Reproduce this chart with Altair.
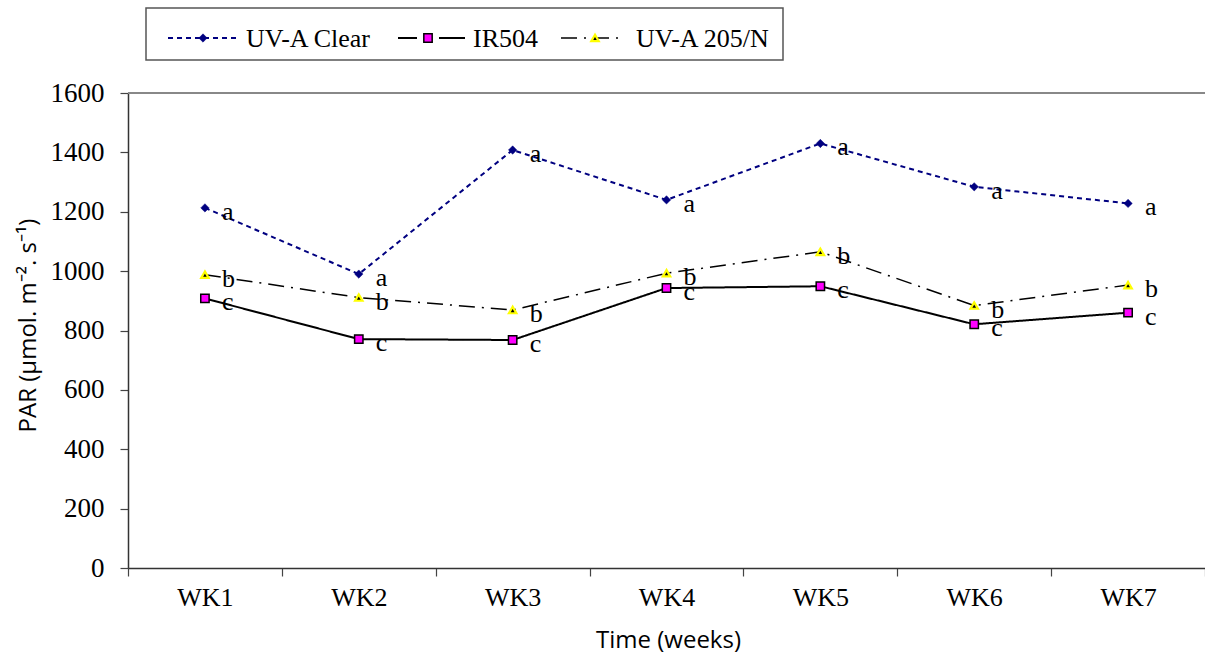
import altair as alt
import pandas as pd

# Weekly PAR readings under three greenhouse films
weeks = ["WK1", "WK2", "WK3", "WK4", "WK5", "WK6", "WK7"]
uva_clear = [1213, 990, 1408, 1240, 1430, 1284, 1228]
ir504 = [908, 771, 768, 943, 949, 821, 860]
uva_205n = [988, 911, 869, 993, 1065, 884, 953]
letters_clear = ["a", "a", "a", "a", "a", "a", "a"]
letters_ir504 = ["c", "c", "c", "c", "c", "c", "c"]
letters_205n = ["b", "b", "b", "b", "b", "b", "b"]

SERIF = "Liberation Serif"
SANS = "Open Sans"
W, H = 1077, 475

def frame(values, letters):
    return pd.DataFrame({"week": weeks, "value": values, "letter": letters})

x_enc = alt.X(
    "week:N",
    sort=weeks,
    scale=alt.Scale(type="band", domain=weeks, paddingInner=0, paddingOuter=0),
    axis=alt.Axis(
        title="Time (weeks)",
        titleFont=SANS, titleFontSize=24, titleFontWeight="normal", titleColor="black",
        titleX=540, titleY=72, titleBaseline="middle",
        labelFont=SERIF, labelFontSize=26, labelColor="black", labelAngle=0,
        labelPadding=8, tickBand="extent", tickSize=8,
        tickColor="#444", domainColor="#333", domainWidth=1.5, tickWidth=1.2,
        grid=False,
    ),
)
y_enc = alt.Y(
    "value:Q",
    scale=alt.Scale(domain=[0, 1600], nice=False),
    axis=alt.Axis(
        title="PAR (µmol. m⁻². s⁻¹)",
        titleFont=SANS, titleFontSize=24, titleFontWeight="normal", titleColor="black",
        titleX=-100, titleY=232, titleAlign="center", titleBaseline="middle",
        labelFont=SERIF, labelFontSize=27, labelColor="black", labelPadding=16,
        format="d",
        values=list(range(0, 1601, 200)), tickSize=8,
        tickColor="#444", domainColor="#333", domainWidth=1.5, tickWidth=1.2,
        grid=False,
    ),
)

series = [
    dict(name="UV-A Clear", df=frame(uva_clear, letters_clear), color="#000080",
         dash=[5, 4], width=2, shape="diamond", size=70, fill="#000080",
         stroke="#000080", mstroke=0.5),
    dict(name="IR504", df=frame(ir504, letters_ir504), color="black",
         dash=[1, 0], width=2, shape="square", size=70, fill="#FF00FF",
         stroke="black", mstroke=1.5),
    dict(name="UV-A 205/N", df=frame(uva_205n, letters_205n), color="black",
         dash=[16, 7, 2, 7], width=1.5, shape="triangle-up", size=55, fill="black",
         stroke="#FFFF00", mstroke=2.2),
]

layers = []
one_row = pd.DataFrame({"k": [0]})

# the frame is open on its right-hand side: a white strip keeps that edge clear
layers.append(
    alt.Chart(one_row).mark_rect(fill="white", strokeWidth=0).encode(
        x=alt.value(W - 16), x2=alt.value(W + 4), y=alt.value(2), y2=alt.value(H - 2)
    )
)

# top border of the plot frame
layers.append(
    alt.Chart(one_row).mark_rule(color="#888888", strokeWidth=2).encode(
        x=alt.value(0), x2=alt.value(W), y=alt.value(0)
    )
)

for s in series:
    base = alt.Chart(s["df"]).encode(x=x_enc, y=y_enc)
    layers.append(
        base.mark_line(color=s["color"], strokeDash=s["dash"], strokeWidth=s["width"])
    )
for s in series:
    base = alt.Chart(s["df"]).encode(x=x_enc, y=y_enc)
    layers.append(
        base.mark_point(shape=s["shape"], size=s["size"], filled=True, fill=s["fill"],
                        stroke=s["stroke"], strokeWidth=s["mstroke"], opacity=1)
    )
for s in series:
    base = alt.Chart(s["df"]).encode(x=x_enc, y=y_enc)
    layers.append(
        base.mark_text(align="left", baseline="middle", dx=17, dy=4,
                       font=SERIF, fontSize=26, color="black").encode(text="letter:N")
    )

# legend box drawn above the plot
ly = -55
layers.append(
    alt.Chart(one_row).mark_rect(fill="white", stroke="#555555", strokeWidth=1.5).encode(
        x=alt.value(18), x2=alt.value(655), y=alt.value(-85), y2=alt.value(-33)
    )
)
legend_items = [
    (series[0], [(40, 110)], 75, 118),
    (series[1], [(270, 289), (311, 337)], 300, 345),
    (series[2], [(433, 495)], 467, 508),
]
for s, segs, mx, tx in legend_items:
    for a, b in segs:
        layers.append(
            alt.Chart(one_row).mark_rule(color=s["color"], strokeDash=s["dash"],
                                         strokeWidth=s["width"]).encode(
                x=alt.value(a), x2=alt.value(b), y=alt.value(ly)
            )
        )
    layers.append(
        alt.Chart(one_row).mark_point(shape=s["shape"], size=s["size"], filled=True,
                                      fill=s["fill"], stroke=s["stroke"],
                                      strokeWidth=s["mstroke"], opacity=1).encode(
            x=alt.value(mx), y=alt.value(ly)
        )
    )
    layers.append(
        alt.Chart(pd.DataFrame({"t": [s["name"]]})).mark_text(
            align="left", baseline="middle", font=SERIF, fontSize=26, color="black"
        ).encode(x=alt.value(tx), y=alt.value(ly + 1), text="t:N")
    )

# white strip again on top of the marks, clear of the WK7 letters
layers.append(
    alt.Chart(one_row).mark_rect(fill="white", strokeWidth=0).encode(
        x=alt.value(W - 16), x2=alt.value(W + 4), y=alt.value(2), y2=alt.value(H - 2)
    )
)

chart = alt.layer(*layers).properties(
    width=W,
    height=H,
    autosize=alt.AutoSizeParams(type="none"),
    padding={"left": 128, "top": 93, "right": 0, "bottom": 86},
    background="white",
).configure_view(stroke=None)

chart.save("out.html", embed_options={"renderer": "svg", "actions": False})
